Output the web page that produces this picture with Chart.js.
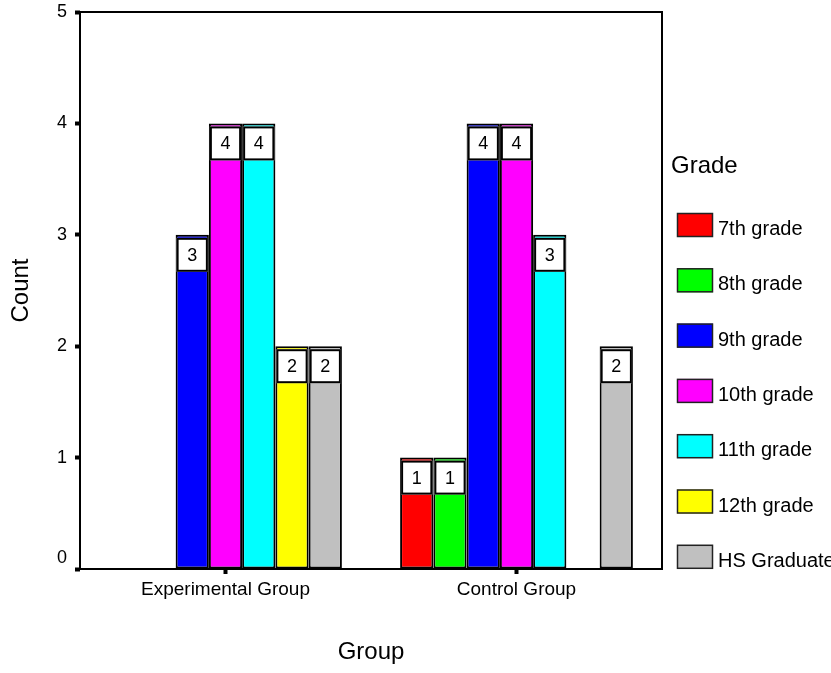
<!DOCTYPE html>
<html>
<head>
<meta charset="utf-8">
<script src="https://cdn.jsdelivr.net/npm/chart.js@4/dist/chart.umd.min.js"></script>
<style>
  html, body { margin: 0; padding: 0; background: #fff; overflow: hidden; }
  canvas { display: block; }
</style>
</head>
<body>
<canvas id="chart" width="831" height="673"></canvas>
<script>
// Categories on the x axis
const groups = ['Experimental Group', 'Control Group'];

// Series: count of students per grade in each group
const gradeNames = ['7th grade', '8th grade', '9th grade', '10th grade', '11th grade', '12th grade', 'HS Graduate'];
const grade7 = [0, 1];
const grade8 = [0, 1];
const grade9 = [3, 4];
const grade10 = [4, 4];
const grade11 = [4, 3];
const grade12 = [2, 0];
const hsGraduate = [2, 2];

// Y axis tick values
const countTicks = [0, 1, 2, 3, 4, 5];

const gradeColors = ['#FF0000', '#00FF00', '#0000FF', '#FF00FF', '#00FFFF', '#FFFF00', '#C0C0C0'];
const seriesValues = [grade7, grade8, grade9, grade10, grade11, grade12, hsGraduate];

const FONT = '"Liberation Sans", Arial, Helvetica, sans-serif';

const datasets = gradeNames.map((name, i) => ({
  label: name,
  data: seriesValues[i],
  backgroundColor: gradeColors[i],
  borderColor: '#000',
  borderWidth: 2,
  borderSkipped: false,
  inflateAmount: 0,
  categoryPercentage: 0.8,
  barPercentage: 1.0
}));

// White value boxes at the top of each bar
const valueBoxes = {
  id: 'valueBoxes',
  afterDatasetsDraw(chart) {
    const ctx = chart.ctx;
    chart.data.datasets.forEach((ds, i) => {
      const meta = chart.getDatasetMeta(i);
      meta.data.forEach((bar, j) => {
        const v = ds.data[j];
        if (!v) return;
        const p = bar.getProps(['x', 'y', 'width'], true);
        const left = p.x - p.width / 2 + 1;
        const w = p.width - 2;
        const top = p.y + 3;
        const h = 34;
        ctx.save();
        ctx.fillStyle = '#fff';
        ctx.fillRect(left, top, w, h);
        ctx.strokeStyle = '#000';
        ctx.lineWidth = 2;
        ctx.strokeRect(left + 1, top + 1, w - 2, h - 2);
        ctx.fillStyle = '#000';
        ctx.font = '18px ' + FONT;
        ctx.textAlign = 'center';
        ctx.textBaseline = 'middle';
        ctx.fillText(String(v), p.x, top + h / 2 + 1);
        ctx.restore();
      });
    });
  }
};

// Box around the plot area
const plotFrame = {
  id: 'plotFrame',
  afterDatasetsDraw(chart) {
    const a = chart.chartArea;
    const ctx = chart.ctx;
    ctx.save();
    ctx.strokeStyle = '#000';
    ctx.lineWidth = 2;
    ctx.strokeRect(a.left, a.top, a.right - a.left, a.bottom - a.top);
    ctx.restore();
  }
};

// Legend on the right with a title
const gradeLegend = {
  id: 'gradeLegend',
  afterDraw(chart) {
    const ctx = chart.ctx;
    ctx.save();
    ctx.fillStyle = '#000';
    ctx.textAlign = 'left';
    ctx.textBaseline = 'alphabetic';
    ctx.font = '24px ' + FONT;
    ctx.fillText('Grade', 671, 173);
    ctx.font = '20px ' + FONT;
    chart.data.datasets.forEach((ds, i) => {
      const top = 213 + i * 55.3;
      ctx.fillStyle = ds.backgroundColor;
      ctx.fillRect(677, top, 36, 24);
      ctx.strokeStyle = '#222';
      ctx.lineWidth = 1.5;
      ctx.strokeRect(677.5, top + 0.5, 35, 23);
      ctx.fillStyle = '#000';
      ctx.fillText(ds.label, 718, top + 22);
    });
    ctx.restore();
  }
};

new Chart(document.getElementById('chart'), {
  type: 'bar',
  data: { labels: groups, datasets },
  options: {
    responsive: false,
    animation: false,
    devicePixelRatio: 1,
    events: [],
    layout: { padding: { left: 0, top: 12, right: 169, bottom: 0 } },
    plugins: {
      legend: { display: false },
      tooltip: { enabled: false }
    },
    scales: {
      x: {
        offset: true,
        border: { display: false },
        grid: {
          offset: false,
          drawOnChartArea: false,
          drawTicks: true,
          tickLength: 5,
          tickWidth: 4,
          tickColor: '#000'
        },
        ticks: {
          color: '#000',
          padding: 4,
          font: { family: FONT, size: 19 }
        },
        title: {
          display: true,
          text: 'Group',
          color: '#000',
          padding: { top: 0, bottom: 6 },
          font: { family: FONT, size: 24 }
        },
        afterFit(scale) {
          scale.height = 104;
          scale.paddingLeft = 0;
          scale.paddingRight = 0;
        }
      },
      y: {
        min: 0,
        max: 5,
        border: { display: false },
        afterBuildTicks(scale) { scale.ticks = countTicks.map(v => ({ value: v })); },
        grid: {
          drawOnChartArea: false,
          drawTicks: true,
          tickLength: 5,
          tickWidth: 4,
          tickColor: '#000'
        },
        ticks: {
          color: '#000',
          padding: 8,
          font: { family: FONT, size: 18 },
          callback(value) { return value === 0 ? ['0', ''] : String(value); }
        },
        title: {
          display: true,
          text: 'Count',
          color: '#000',
          padding: { top: 7, bottom: 0 },
          font: { family: FONT, size: 24 }
        },
        afterFit(scale) {
          scale.width = 80;
          scale.paddingTop = 0;
          scale.paddingBottom = 0;
        }
      }
    }
  },
  plugins: [valueBoxes, plotFrame, gradeLegend]
});
</script>
</body>
</html>
